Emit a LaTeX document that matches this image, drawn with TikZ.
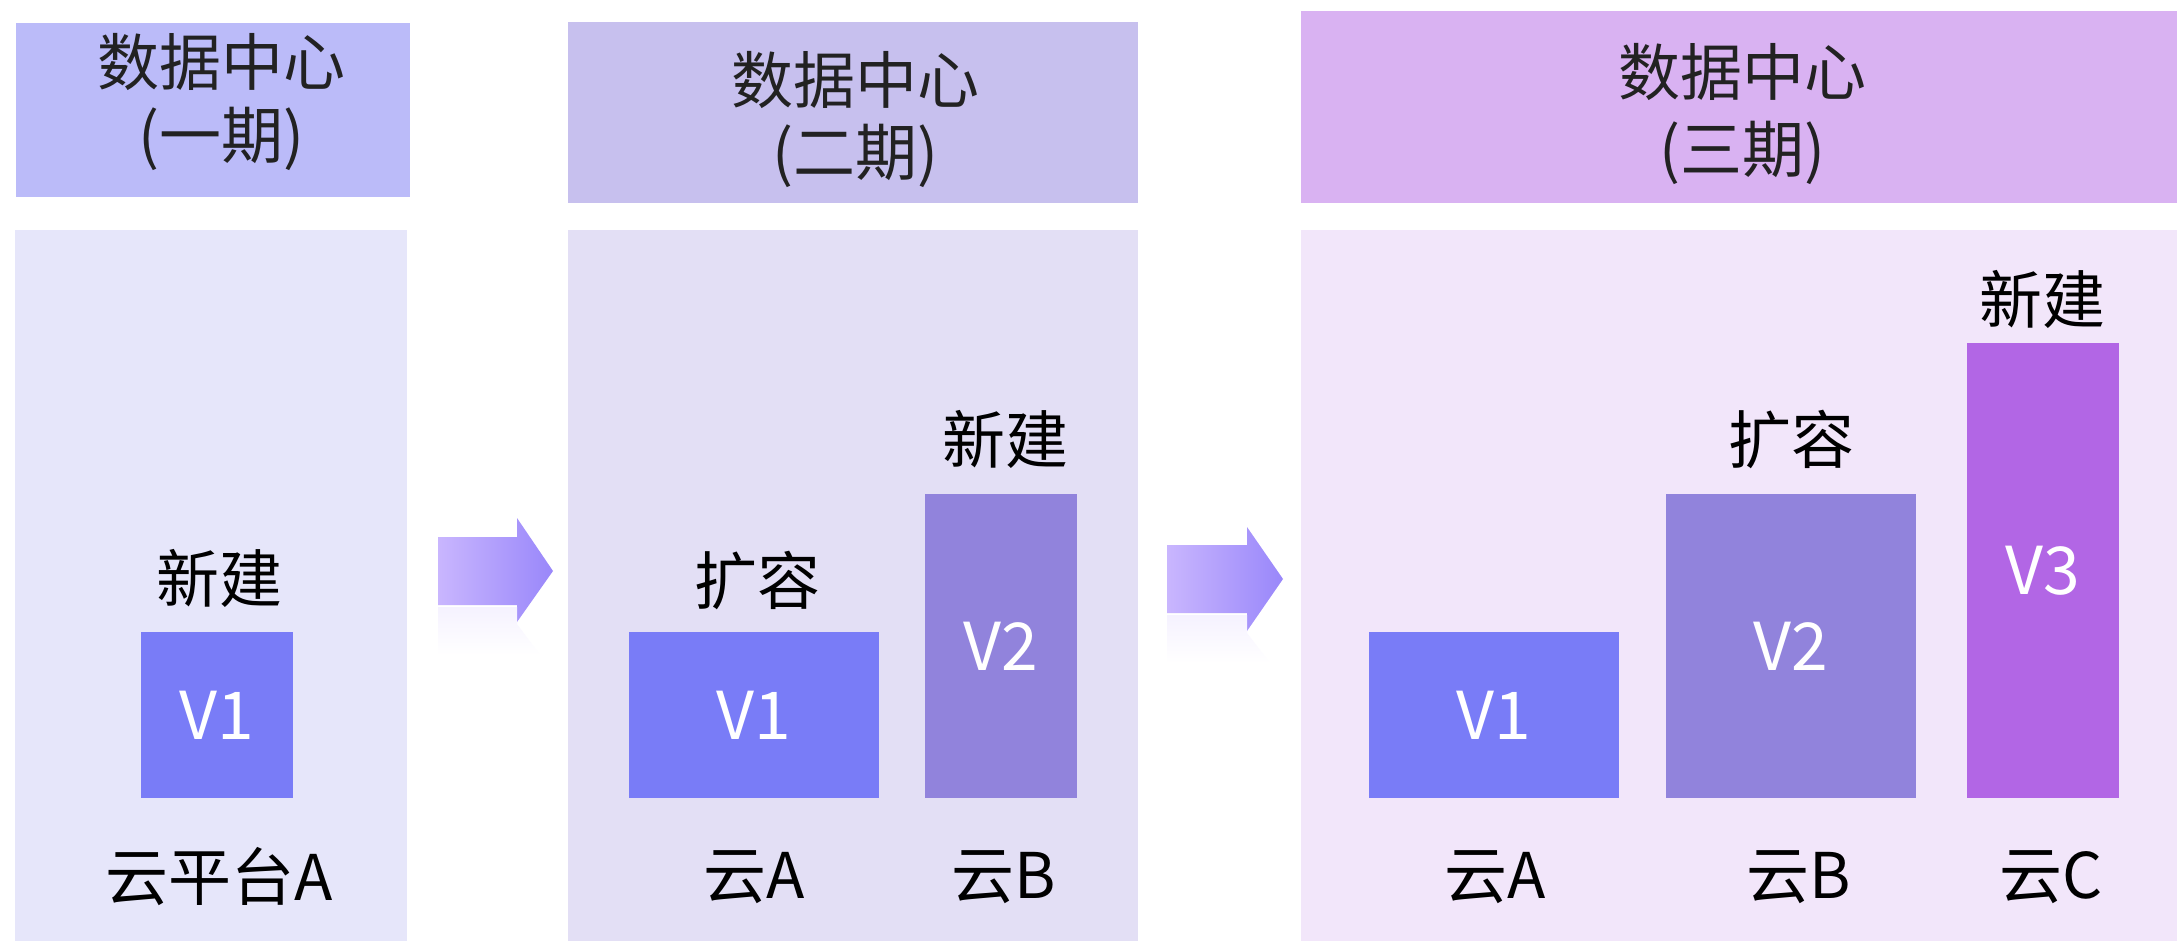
\documentclass[tikz,border=0pt]{standalone}
\usepackage{fontspec}
\setmainfont{Noto Sans CJK SC}
\definecolor{hdrA}{HTML}{BBBBF9}
\definecolor{hdrB}{HTML}{C7C0EE}
\definecolor{hdrC}{HTML}{D9B2F2}
\definecolor{panA}{HTML}{E6E6FA}
\definecolor{panB}{HTML}{E3DFF5}
\definecolor{panC}{HTML}{F2E6FA}
\definecolor{barA}{HTML}{797CF7}
\definecolor{barB}{HTML}{9183DC}
\definecolor{barC}{HTML}{B266E5}
\definecolor{arrL}{HTML}{C9B6FE}
\definecolor{arrR}{HTML}{9987FA}
\definecolor{hdrtext}{HTML}{222222}
\begin{document}
\begin{tikzpicture}[x=1pt,y=-1pt,
  area/.style={inner sep=0pt,outer sep=0pt,anchor=north west,draw=none},
  hdrtxt/.style={text=hdrtext,font=\fontsize{62}{78}\selectfont,align=center,inner sep=0pt},
  lbl/.style={text=black,font=\fontsize{63}{70}\selectfont,inner sep=0pt},
  vtxt/.style={text=white,font=\fontsize{66}{70}\selectfont}]
\useasboundingbox[fill=white] (0,0) rectangle (2177,941);
% headers
\node[area,fill=hdrA,minimum width=394pt,minimum height=174pt] (h1) at (16,23) {};
\node[area,fill=hdrB,minimum width=570pt,minimum height=181pt] (h2) at (568,22) {};
\node[area,fill=hdrC,minimum width=876pt,minimum height=192pt] (h3) at (1301,11) {};
\node[hdrtxt] (h1a) at (221,62) {数据中心};
\node[hdrtxt] (h1b) at (221,139) {(一期)};
\node[hdrtxt] (h2a) at (855,80) {数据中心};
\node[hdrtxt] (h2b) at (855,156) {(二期)};
\node[hdrtxt] (h3a) at (1742,72) {数据中心};
\node[hdrtxt] (h3b) at (1742,153) {(三期)};
% panels
\node[area,fill=panA,minimum width=392pt,minimum height=711pt] (p1) at (15,230) {};
\node[area,fill=panB,minimum width=570pt,minimum height=711pt] (p2) at (568,230) {};
\node[area,fill=panC,minimum width=876pt,minimum height=711pt] (p3) at (1301,230) {};
% bars
\node[area,fill=barA,minimum width=152pt,minimum height=166pt] (b11) at (141,632) {};
\node[vtxt] at (b11.center) {V1};
\node[area,fill=barA,minimum width=250pt,minimum height=166pt] (b21) at (629,632) {};
\node[vtxt] at (b21.center) {V1};
\node[area,fill=barB,minimum width=152pt,minimum height=304pt] (b22) at (925,494) {};
\node[vtxt] at (b22.center) {V2};
\node[area,fill=barA,minimum width=250pt,minimum height=166pt] (b31) at (1369,632) {};
\node[vtxt] at (b31.center) {V1};
\node[area,fill=barB,minimum width=250pt,minimum height=304pt] (b32) at (1666,494) {};
\node[vtxt] at (b32.center) {V2};
\node[area,fill=barC,minimum width=152pt,minimum height=455pt] (b33) at (1967,343) {};
\node[vtxt] at (b33.center) {V3};
% labels
\node[lbl] (l11) at (219,578) {新建};
\node[lbl] (c11) at (219,877) {云平台A};
\node[lbl] (l21) at (757,580) {扩容};
\node[lbl] (l22) at (1005,439) {新建};
\node[lbl] (c21) at (754,877) {云A};
\node[lbl] (c22) at (1004,877) {云B};
\node[lbl] (l32) at (1791,439) {扩容};
\node[lbl] (l33) at (2042,299) {新建};
\node[lbl] (c31) at (1495,877) {云A};
\node[lbl] (c32) at (1799,877) {云B};
\node[lbl] (c33) at (2051,877) {云C};
% arrows with faint reflections
\shade[left color=arrL,right color=arrR] (438,537) -- (517,537) -- (517,518) -- (553,571) -- (517,622) -- (517,605) -- (438,605) -- cycle;
\shade[top color=arrL!18,bottom color=white] (438,607) -- (517,607) -- (517,624) -- (540,655) -- (438,655) -- cycle;
\shade[left color=arrL,right color=arrR] (1167,545) -- (1247,545) -- (1247,527) -- (1283,579) -- (1247,631) -- (1247,613) -- (1167,613) -- cycle;
\shade[top color=arrL!18,bottom color=white] (1167,615) -- (1247,615) -- (1247,633) -- (1270,663) -- (1167,663) -- cycle;
\end{tikzpicture}
\end{document}
